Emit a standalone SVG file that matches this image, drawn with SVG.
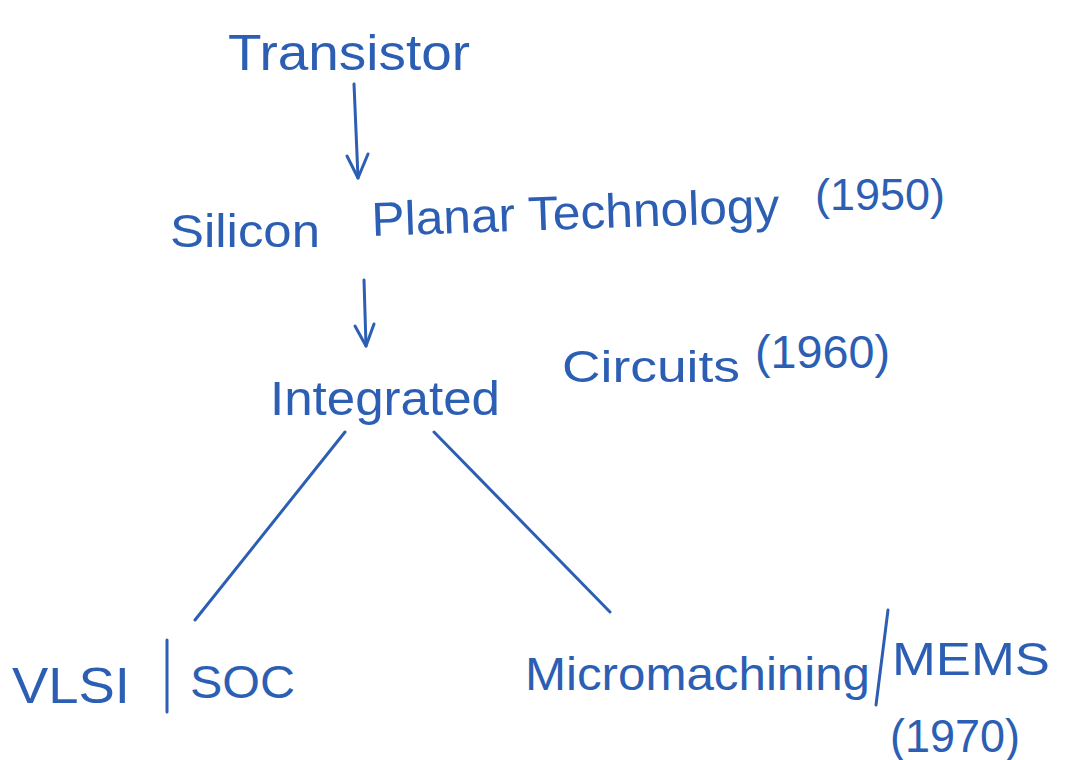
<svg xmlns="http://www.w3.org/2000/svg" width="1066" height="760" viewBox="0 0 1066 760">
<style>
.t{font-family:"Liberation Sans",Arial,sans-serif;fill:#2c5fb3;font-weight:normal}
.c{stroke:#2c5fb3;stroke-width:3;fill:none;stroke-linecap:round;stroke-linejoin:round}
</style>
<rect width="1066" height="760" fill="#ffffff"/>
<g id="connectors">
<path class="c" d="M354 84 L358 178"/>
<path class="c" d="M347 156 L358 178 L368 154"/>
<path class="c" d="M364 280 L366 346"/>
<path class="c" d="M355 326 L366 346 L374 324"/>
<path class="c" d="M345 432 L195 620"/>
<path class="c" d="M434 432 L610 612"/>
</g>
<g id="node-transistor">
<text class="t" x="228" y="70" font-size="50" textLength="242" lengthAdjust="spacingAndGlyphs">Transistor</text>
</g>
<g id="node-silicon-planar">
<text class="t" x="170" y="247" font-size="46" textLength="150" lengthAdjust="spacingAndGlyphs">Silicon</text>
<text class="t" x="372" y="236" font-size="48" textLength="408" lengthAdjust="spacingAndGlyphs" transform="rotate(-2 372 236)">Planar Technology</text>
<text class="t" x="815" y="210" font-size="44" textLength="130" lengthAdjust="spacingAndGlyphs">(1950)</text>
</g>
<g id="node-ic">
<text class="t" x="270" y="415" font-size="48" textLength="230" lengthAdjust="spacingAndGlyphs">Integrated</text>
<text class="t" x="562" y="382" font-size="44" textLength="178" lengthAdjust="spacingAndGlyphs">Circuits</text>
<text class="t" x="755" y="368" font-size="46" textLength="135" lengthAdjust="spacingAndGlyphs">(1960)</text>
</g>
<g id="node-vlsi">
<text class="t" x="12" y="703" font-size="50" textLength="118" lengthAdjust="spacingAndGlyphs">VLSI</text>
<path class="c" d="M167 640 L167 712"/>
<text class="t" x="190" y="698" font-size="46" textLength="105" lengthAdjust="spacingAndGlyphs">SOC</text>
</g>
<g id="node-mems">
<text class="t" x="525" y="690" font-size="46" textLength="345" lengthAdjust="spacingAndGlyphs">Micromachining</text>
<path class="c" d="M876 705 L888 610"/>
<text class="t" x="892" y="675" font-size="46" textLength="158" lengthAdjust="spacingAndGlyphs">MEMS</text>
<text class="t" x="890" y="752" font-size="46" textLength="130" lengthAdjust="spacingAndGlyphs">(1970)</text>
</g>
</svg>
